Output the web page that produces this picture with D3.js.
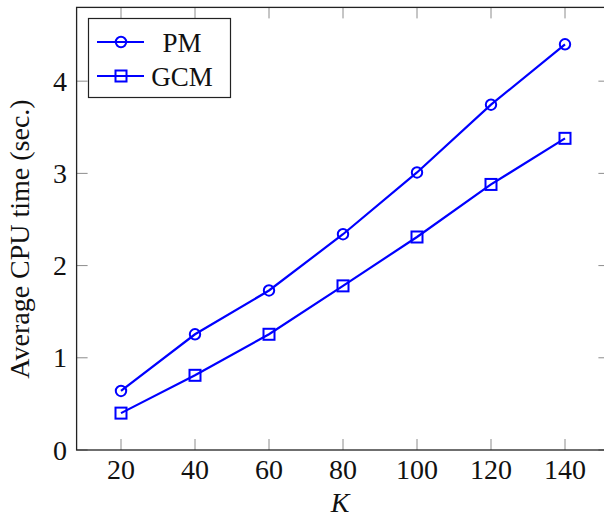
<!DOCTYPE html>
<html>
<head>
<meta charset="utf-8">
<script src="https://cdn.jsdelivr.net/npm/d3@7"></script>
<style>
  body { margin: 0; background: #fff; }
  svg { display: block; }
</style>
</head>
<body>
<svg id="chart"></svg>
<script>
// data
var kValues = [20, 40, 60, 80, 100, 120, 140];
var pmTimes = [0.64, 1.255, 1.73, 2.34, 3.01, 3.745, 4.40];
var gcmTimes = [0.40, 0.81, 1.255, 1.78, 2.31, 2.88, 3.38];
var xTicks = [20, 40, 60, 80, 100, 120, 140];
var yTicks = [0, 1, 2, 3, 4];
var seriesNames = ["PM", "GCM"];

var width = 604;
var height = 518;
var font = "'Liberation Serif', 'Times New Roman', serif";
var blue = "#0000ff";

var svg = d3.select("#chart")
    .attr("width", width)
    .attr("height", height);

// scales (pgfplots style: x padded by 10% each side)
var xScale = d3.scaleLinear()
    .domain([8, 152])
    .range([76.6, 609.4]);

var yScale = d3.scaleLinear()
    .domain([0, 4.8])
    .range([450, 7.4]);

var x0 = xScale.range()[0], x1 = xScale.range()[1];
var y0 = yScale.range()[0], y1 = yScale.range()[1];

// inward ticks on all four sides, gray
var tickLen = 11;
var ticks = svg.append("g")
    .attr("stroke", "#8c8c8c")
    .attr("stroke-width", 1);

xTicks.forEach(function(t) {
    ticks.append("line")
        .attr("x1", xScale(t)).attr("x2", xScale(t))
        .attr("y1", y0).attr("y2", y0 - tickLen);
    ticks.append("line")
        .attr("x1", xScale(t)).attr("x2", xScale(t))
        .attr("y1", y1).attr("y2", y1 + tickLen);
});
yTicks.forEach(function(t) {
    ticks.append("line")
        .attr("x1", x0).attr("x2", x0 + tickLen)
        .attr("y1", yScale(t)).attr("y2", yScale(t));
    ticks.append("line")
        .attr("x1", x1).attr("x2", x1 - tickLen)
        .attr("y1", yScale(t)).attr("y2", yScale(t));
});

// axis box
svg.append("rect")
    .attr("x", x0)
    .attr("y", y1)
    .attr("width", x1 - x0)
    .attr("height", y0 - y1)
    .attr("fill", "none")
    .attr("stroke", "#222")
    .attr("stroke-width", 1.3);

// tick labels
svg.append("g")
    .selectAll("text")
    .data(xTicks)
    .enter().append("text")
    .attr("x", function(d) { return xScale(d); })
    .attr("y", 478.5)
    .attr("text-anchor", "middle")
    .style("font-family", font)
    .style("font-size", "28px")
    .attr("fill", "#111")
    .text(function(d) { return d; });

svg.append("g")
    .selectAll("text")
    .data(yTicks)
    .enter().append("text")
    .attr("x", 67)
    .attr("y", function(d) { return yScale(d) + 9.5; })
    .attr("text-anchor", "end")
    .style("font-family", font)
    .style("font-size", "28px")
    .attr("fill", "#111")
    .text(function(d) { return d; });

// axis labels
svg.append("text")
    .attr("x", 340)
    .attr("y", 512)
    .attr("text-anchor", "middle")
    .style("font-family", font)
    .style("font-size", "28px")
    .style("font-style", "italic")
    .attr("fill", "#111")
    .text("K");

svg.append("text")
    .attr("transform", "translate(29,239) rotate(-90)")
    .attr("text-anchor", "middle")
    .style("font-family", font)
    .style("font-size", "28px")
    .attr("fill", "#111")
    .text("Average CPU time (sec.)");

// lines
var line = d3.line()
    .x(function(d) { return xScale(d.k); })
    .y(function(d) { return yScale(d.v); });

var pmData = kValues.map(function(k, i) { return { k: k, v: pmTimes[i] }; });
var gcmData = kValues.map(function(k, i) { return { k: k, v: gcmTimes[i] }; });

svg.append("path")
    .datum(pmData)
    .attr("d", line)
    .attr("fill", "none")
    .attr("stroke", blue)
    .attr("stroke-width", 2.2);

svg.append("path")
    .datum(gcmData)
    .attr("d", line)
    .attr("fill", "none")
    .attr("stroke", blue)
    .attr("stroke-width", 2.2);

// markers
function circleMark(g, cx, cy) {
    g.append("circle")
        .attr("cx", cx).attr("cy", cy).attr("r", 5.2)
        .attr("fill", "none")
        .attr("stroke", blue)
        .attr("stroke-width", 2);
}
function squareMark(g, cx, cy) {
    g.append("rect")
        .attr("x", cx - 5.5).attr("y", cy - 5.5)
        .attr("width", 11).attr("height", 11)
        .attr("fill", "none")
        .attr("stroke", blue)
        .attr("stroke-width", 2);
}

var marks = svg.append("g");
pmData.forEach(function(d) { circleMark(marks, xScale(d.k), yScale(d.v)); });
gcmData.forEach(function(d) { squareMark(marks, xScale(d.k), yScale(d.v)); });

// legend
var legend = svg.append("g");
legend.append("rect")
    .attr("x", 88.5).attr("y", 18.5)
    .attr("width", 142).attr("height", 79)
    .attr("fill", "#fff")
    .attr("stroke", "#222")
    .attr("stroke-width", 1.2);

var legendY = [42, 76];
seriesNames.forEach(function(name, i) {
    legend.append("line")
        .attr("x1", 97).attr("x2", 144)
        .attr("y1", legendY[i]).attr("y2", legendY[i])
        .attr("stroke", blue)
        .attr("stroke-width", 2.2);
    if (i === 0) circleMark(legend, 121, legendY[i]);
    else squareMark(legend, 121, legendY[i]);
    legend.append("text")
        .attr("x", 182)
        .attr("y", legendY[i] + 9.5)
        .attr("text-anchor", "middle")
        .style("font-family", font)
        .style("font-size", "27px")
        .attr("fill", "#111")
        .text(name);
});
</script>
</body>
</html>
